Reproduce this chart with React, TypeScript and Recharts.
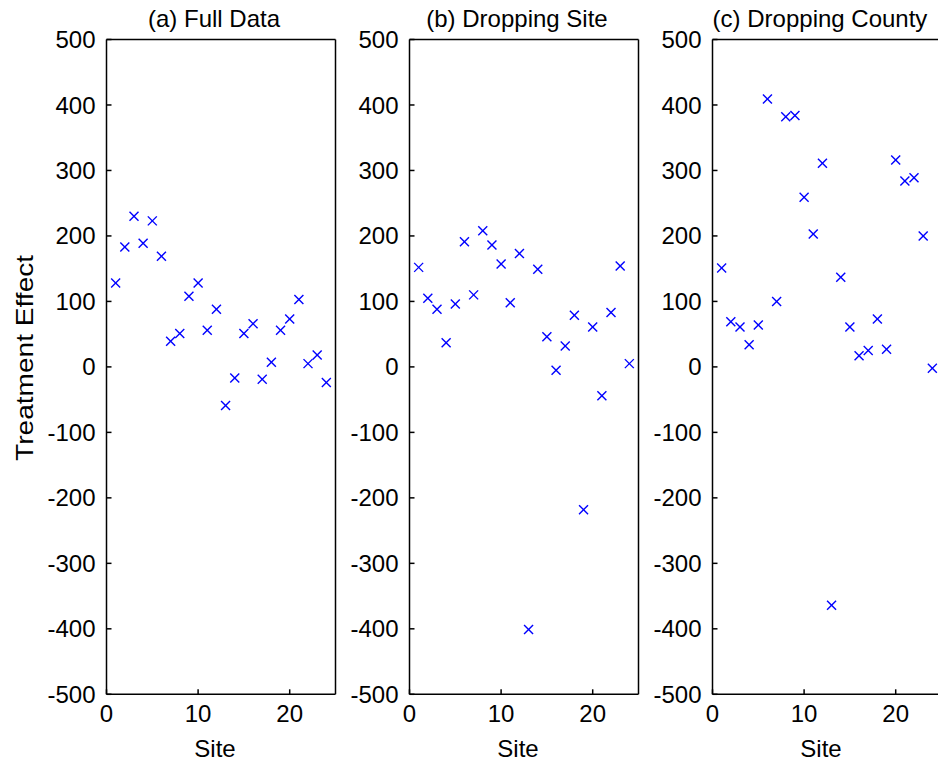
import React from 'react';
import { ScatterChart, Scatter, XAxis, YAxis } from 'recharts';

const sites = [1, 2, 3, 4, 5, 6, 7, 8, 9, 10, 11, 12, 13, 14, 15, 16, 17, 18, 19, 20, 21, 22, 23, 24];
const fullData = [128, 183, 230, 189, 223, 169, 39, 51, 108, 128, 56, 88, -59, -17, 51, 66, -19, 7, 56, 73, 103, 5, 18, -24];
const dropSite = [152, 105, 88, 37, 96, 191, 110, 208, 186, 157, 98, 173, -401, 149, 46, -5, 32, 79, -218, 61, -44, 83, 154, 5];
const dropCounty = [151, 69, 61, 34, 64, 409, 100, 382, 384, 259, 203, 311, -364, 137, 61, 17, 25, 73, 27, 316, 284, 289, 200, -2];
const titles = ['(a) Full Data', '(b) Dropping Site', '(c) Dropping County'];
const xTicks = [0, 10, 20];
const yTicks = [-500, -400, -300, -200, -100, 0, 100, 200, 300, 400, 500];
const xLabel = 'Site';
const yLabel = 'Treatment Effect';

const FONT = '"Liberation Sans", Arial, Helvetica, sans-serif';
const FS = 24;

const Cross = (props: any) => {
  const { cx, cy } = props;
  if (cx == null || cy == null) return null;
  const s = 4.5;
  return (
    <g>
      <line x1={cx - s} y1={cy - s} x2={cx + s} y2={cy + s} stroke="#0000ff" strokeWidth={1.4} />
      <line x1={cx - s} y1={cy + s} x2={cx + s} y2={cy - s} stroke="#0000ff" strokeWidth={1.4} />
    </g>
  );
};

function Panel({ values, title, showYLabel, left }: { values: number[]; title: string; showYLabel: boolean; left: number }) {
  const data = sites.map((s, i) => ({ site: s, effect: values[i] }));
  const tickStyle = { fill: '#000', fontSize: FS, fontFamily: FONT };
  return (
    <div style={{ position: 'absolute', left, top: 0 }}>
      <ScatterChart
        width={341.5}
        height={773}
        margin={{ top: 38.5, right: 5, left: 0, bottom: 3.7 }}
        style={{ fontFamily: FONT }}
      >
        <XAxis
          xAxisId="b"
          dataKey="site"
          type="number"
          domain={[0, 25]}
          ticks={xTicks}
          interval={0}
          orientation="bottom"
          height={75}
          tickSize={-5}
          tickMargin={16}
          stroke="#000"
          strokeWidth={1.5}
          tick={tickStyle}
          label={{
            content: (p: any) => {
              const vb = p.viewBox || {};
              return (
                <text
                  x={vb.x + vb.width / 2 - 6}
                  y={vb.y + vb.height - 12}
                  textAnchor="middle"
                  fill="#000"
                  fontSize={FS}
                  fontFamily={FONT}
                >
                  {xLabel}
                </text>
              );
            },
          }}
        />
        <XAxis
          xAxisId="t"
          type="number"
          domain={[0, 25]}
          ticks={xTicks}
          interval={0}
          orientation="top"
          height={1}
          tickSize={-5}
          tick={false}
          stroke="#000"
          strokeWidth={1.5}
          label={{
            content: (p: any) => {
              const vb = p.viewBox || {};
              return (
                <text
                  x={vb.x + vb.width / 2 - 7}
                  y={vb.y - 11.5}
                  textAnchor="middle"
                  fill="#000"
                  fontSize={FS}
                  fontFamily={FONT}
                >
                  {title}
                </text>
              );
            },
          }}
        />
        <YAxis
          yAxisId="l"
          dataKey="effect"
          type="number"
          domain={[-500, 500]}
          ticks={yTicks}
          interval={0}
          orientation="left"
          width={106.5}
          tickSize={-5}
          tickMargin={16}
          stroke="#000"
          strokeWidth={1.5}
          tick={tickStyle}
          label={
            showYLabel
              ? {
                  content: (p: any) => {
                    const vb = p.viewBox || {};
                    const x = vb.x + 33;
                    const y = vb.y + vb.height / 2 - 9;
                    return (
                      <text
                        x={x}
                        y={y}
                        transform={`rotate(-90, ${x}, ${y})`}
                        textAnchor="middle"
                        fill="#000"
                        fontSize={FS}
                        fontFamily={FONT}
                        textLength={206}
                        lengthAdjust="spacingAndGlyphs"
                      >
                        {yLabel}
                      </text>
                    );
                  },
                }
              : undefined
          }
        />
        <YAxis
          yAxisId="r"
          type="number"
          domain={[-500, 500]}
          ticks={yTicks}
          interval={0}
          orientation="right"
          width={1}
          tickSize={-5}
          tick={false}
          stroke="#000"
          strokeWidth={1.5}
        />
        <Scatter
          xAxisId="b"
          yAxisId="l"
          data={data}
          dataKey="effect"
          shape={Cross}
          isAnimationActive={false}
        />
      </ScatterChart>
    </div>
  );
}

export default function App() {
  const sets = [fullData, dropSite, dropCounty];
  return (
    <div
      style={{
        position: 'absolute',
        left: 0,
        top: 0,
        width: 938,
        height: 773,
        overflow: 'hidden',
        background: '#fff',
      }}
    >
      {sets.map((v, i) => (
        <Panel key={i} values={v} title={titles[i]} showYLabel={i === 0} left={303 * i} />
      ))}
    </div>
  );
}
